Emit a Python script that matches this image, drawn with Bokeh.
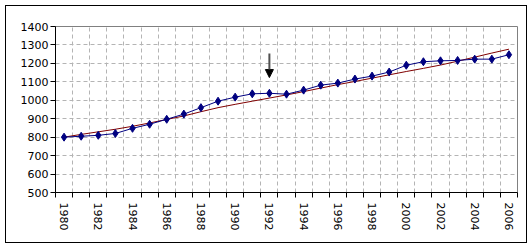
from bokeh.plotting import figure
from bokeh.models import FixedTicker, Arrow, NormalHead, Range1d
from bokeh.embed import file_html
from bokeh.resources import INLINE

years = list(range(1980, 2007))
values = [800, 805, 810, 820, 848, 870, 897, 925, 960, 995, 1017, 1035, 1038,
          1033, 1055, 1082, 1093, 1115, 1131, 1153, 1190, 1209, 1214, 1216,
          1223, 1223, 1247]
trend = [800, 815, 829, 843, 859, 877, 896, 915, 938, 960, 978, 995, 1012,
         1029, 1047, 1066, 1085, 1102, 1120, 1138, 1156, 1173, 1191, 1212,
         1234, 1256, 1277]
y_ticks = list(range(500, 1500, 100))
label_years = [y for y in years if y % 2 == 0]
arrow_year = 1992
arrow_from = 1254
arrow_to = 1123

xs = list(range(len(years)))
centers = [years.index(y) for y in label_years]
bounds = [i - 0.5 for i in range(len(years) + 1)]

p = figure(width=532, height=248, output_backend="svg", toolbar_location=None,
           x_range=Range1d(-0.5, len(years) - 0.5), y_range=Range1d(500, 1400),
           min_border_left=55, min_border_right=15, min_border_top=26,
           min_border_bottom=56, background_fill_color="white",
           border_fill_color=None, outline_line_color="#808080")
p.styles = {"outline": "1px solid black", "outline-offset": "-6px",
            "background-color": "white"}

font = "DejaVu Sans"

# x axis
xa = p.xaxis[0]
xa.ticker = FixedTicker(ticks=centers, minor_ticks=bounds)
xa.major_label_overrides = {c: str(y) for c, y in zip(centers, label_years)}
xa.major_label_orientation = "vertical"
xa.major_tick_line_color = None
xa.major_tick_out = 0
xa.major_tick_in = 0
xa.minor_tick_line_color = "black"
xa.minor_tick_out = 5
xa.minor_tick_in = 0
xa.axis_line_color = "black"
xa.major_label_standoff = 5
xa.major_label_text_font = font
xa.major_label_text_font_size = "11px"
xa.major_label_text_color = "black"

# y axis
ya = p.yaxis[0]
ya.ticker = FixedTicker(ticks=y_ticks, minor_ticks=[])
ya.major_tick_out = 5
ya.major_tick_in = 0
ya.major_tick_line_color = "black"
ya.minor_tick_line_color = None
ya.axis_line_color = "black"
ya.major_label_standoff = 2
ya.major_label_text_font = font
ya.major_label_text_font_size = "11px"
ya.major_label_text_color = "black"

# grids
p.xgrid[0].ticker = FixedTicker(ticks=bounds)
for g in (p.xgrid[0], p.ygrid[0]):
    g.grid_line_color = "#b4b4b4"
    g.grid_line_dash = "4 3"
    g.grid_line_width = 1

# data
p.line(xs, trend, line_color="#800000", line_width=1)
p.line(xs, values, line_color="#000080", line_width=1)
p.scatter(xs, values, marker="diamond", size=8, fill_color="#000080",
          line_color="#000080")

ax = years.index(arrow_year)
p.add_layout(Arrow(x_start=ax, y_start=arrow_from, x_end=ax, y_end=arrow_to,
                   line_color="#505050", line_width=2,
                   end=NormalHead(size=8, fill_color="black", line_color="black")))

open("out.html", "w").write(file_html(p, INLINE))
